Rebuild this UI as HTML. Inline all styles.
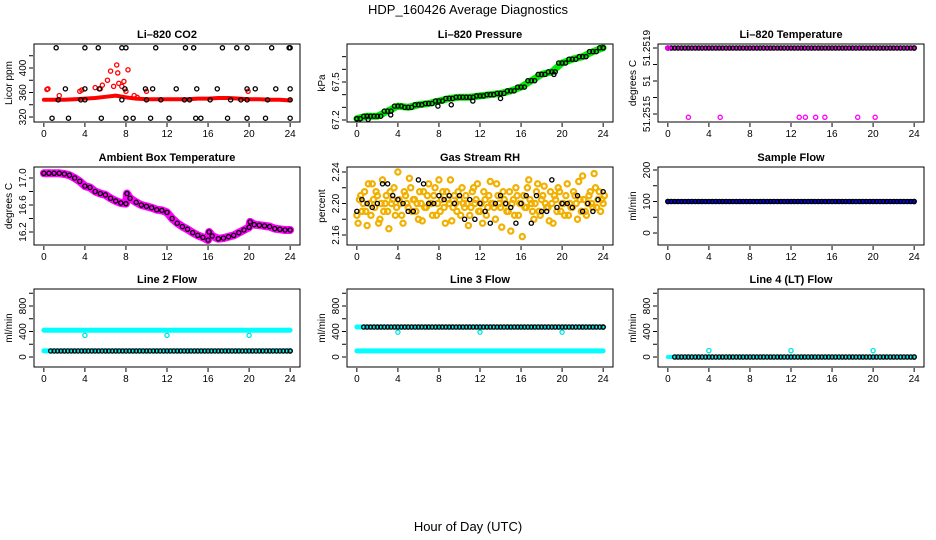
<!DOCTYPE html>
<html><head><meta charset="utf-8">
<style>
html,body{margin:0;padding:0;background:#fff;}
svg{display:block;font-family:"Liberation Sans",Arial,sans-serif;}
</style></head>
<body>
<svg id="chart" width="936" height="540" viewBox="0 0 936 540" xmlns="http://www.w3.org/2000/svg">
<rect x="0" y="0" width="936" height="540" fill="#fff"/>
<text x="468" y="14" font-size="13" text-anchor="middle">HDP_160426  Average Diagnostics</text>
<text x="468" y="531" font-size="13" text-anchor="middle">Hour of Day (UTC)</text>
</svg>
<script>
// ---------- data ----------
const xTicks = [0,4,8,12,16,20,24];
const hours = [0,1,2,3,4,5,6,7,8,9,10,11,12,13,14,15,16,17,18,19,20,21,22,23,24];

const co2Red = [348,348,348,349,350,351,353,355,352,350,349,349,349,349,349,350,350,351,351,350,349,349,348,348,347];
const co2RedOutX = [0.3,0.4,1.5,3.5,3.7,5,5.7,6.2,6.5,7.1,7.2,7.3,7.6,8.2,8,8.8,9.1,10,19.9,5.5,6.8,7.8];
const co2RedOutY = [365,366,355,362,364,368,372,380,395,405,392,375,370,397,362,355,352,362,362,366,370,378];
const co2BlackTopX = [1.2,4,5.3,7.6,8,10.9,13.8,14.6,17.4,18.8,19.8,22.2,23.9,24];
const co2BlackTopY = [433,433,433,433,433,433,433,433,433,433,433,433,433,433];
const co2BlackMidX = [2.1,4,5.4,7.9,9.9,10.6,12.9,14.9,16.9,19.8,20.6,22.6,24];
const co2BlackMidY = [366,366,366,366,366,366,366,366,366,366,366,366,366];
const co2BlackLowX = [1.4,3.6,4,7.6,10,11.4,13.7,14.2,16.2,18.2,19.2,19.8,21.8,24];
const co2BlackLowY = [348,348,348,348,348,348,348,348,348,348,348,348,348,348];
const co2BlackBotX = [0.8,2.4,5.6,8,8.7,10.4,12.2,14.8,15.3,17.9,19.8,21.6,24];
const co2BlackBotY = [318,318,318,318,318,318,318,318,318,318,318,318,318];

const pressure = [67.21,67.23,67.23,67.27,67.31,67.30,67.32,67.33,67.35,67.37,67.38,67.38,67.39,67.40,67.41,67.43,67.46,67.51,67.56,67.58,67.65,67.68,67.70,67.74,67.77];
const pressureOutX = [1.1,3.3,7.9,9.2,11.3,14,19.2];
const pressureOutY = [67.205,67.24,67.31,67.32,67.35,67.37,67.56];

const tempBlack = [51.2519,51.2519,51.2519,51.2519,51.2519,51.2519,51.2519,51.2519,51.2519,51.2519,51.2519,51.2519,51.2519,51.2519,51.2519,51.2519,51.2519,51.2519,51.2519,51.2519,51.2519,51.2519,51.2519,51.2519,51.2519];
const tempMagOutX = [0,2,5.1,12.8,13.4,14.4,15.3,18.5,20.2];
const tempMagOutY = [51.2519,51.25148,51.25148,51.25148,51.25148,51.25148,51.25148,51.25148,51.25148];

const ambientHours = [0,0.5,1,1.5,2,2.5,3,3.5,4,4.5,5,5.5,6,6.5,7,7.5,8,8.1,8.4,9,9.5,10,10.5,11,11.5,12,12.5,13,13.5,14,14.5,15,15.5,16,16.1,16.4,17,17.5,18,18.5,19,19.5,20,20.1,20.5,21,21.5,22,22.5,23,23.5,24];
const ambientValues = [17.07,17.07,17.07,17.07,17.06,17.04,17.0,16.95,16.88,16.86,16.8,16.77,16.75,16.7,16.66,16.63,16.62,16.77,16.7,16.64,16.6,16.58,16.56,16.53,16.52,16.49,16.4,16.33,16.28,16.24,16.19,16.15,16.12,16.08,16.2,16.14,16.1,16.11,16.13,16.15,16.19,16.23,16.27,16.35,16.31,16.3,16.29,16.28,16.25,16.24,16.23,16.23];

const rhYellowA = [2.185,2.205,2.19,2.215,2.172,2.2,2.225,2.195,2.21,2.18,2.23,2.2,2.19,2.215,2.205,2.185,2.24,2.2,2.175,2.21,2.195,2.22,2.205,2.19,2.18,2.2,2.215,2.195,2.225,2.2,2.21,2.185,2.23,2.205,2.195,2.215,2.2,2.178,2.21,2.19,2.205,2.22,2.195,2.2,2.185,2.215,2.2,2.225,2.19,2.175,2.205,2.195,2.228,2.2,2.18,2.21,2.195,2.215,2.2,2.19,2.165,2.205,2.22,2.185,2.2,2.21,2.195,2.23,2.2,2.18,2.215,2.19,2.205,2.222,2.195,2.178,2.2,2.21,2.19,2.215,2.2,2.185,2.225,2.2,2.195,2.21,2.18,2.205,2.235,2.19,2.2,2.215,2.195,2.22,2.205,2.19,2.2];
const rhYellowB = [2.175,2.21,2.2,2.19,2.225,2.185,2.205,2.215,2.175,2.2,2.19,2.21,2.168,2.2,2.22,2.195,2.205,2.185,2.215,2.2,2.232,2.19,2.205,2.2,2.215,2.178,2.195,2.21,2.2,2.185,2.22,2.2,2.19,2.215,2.175,2.205,2.23,2.195,2.2,2.215,2.185,2.2,2.21,2.172,2.195,2.22,2.205,2.19,2.2,2.215,2.185,2.21,2.2,2.195,2.225,2.2,2.17,2.205,2.19,2.215,2.2,2.185,2.21,2.2,2.158,2.195,2.22,2.205,2.19,2.2,2.225,2.185,2.21,2.2,2.195,2.215,2.175,2.205,2.22,2.19,2.2,2.21,2.185,2.195,2.215,2.2,2.228,2.19,2.205,2.185,2.21,2.2,2.238,2.195,2.215,2.205,2.21];
const rhBlack = [2.19,2.205,2.2,2.195,2.2,2.225,2.225,2.21,2.205,2.2,2.19,2.19,2.23,2.225,2.2,2.2,2.21,2.205,2.21,2.2,2.21,2.18,2.205,2.18,2.2,2.19,2.175,2.2,2.21,2.2,2.195,2.175,2.2,2.21,2.175,2.21,2.19,2.19,2.23,2.195,2.2,2.2,2.195,2.21,2.19,2.2,2.19,2.205,2.215];

const sampleFlow = [100,100,100,100,100,100,100,100,100,100,100,100,100,100,100,100,100,100,100,100,100,100,100,100,100];
const line2High = [420,420,420,420,420,420,420,420,420,420,420,420,420,420,420,420,420,420,420,420,420,420,420,420,420];
const line2Low = [95,95,95,95,95,95,95,95,95,95,95,95,95,95,95,95,95,95,95,95,95,95,95,95,95];
const line2OutX = [4,12,20];
const line2OutY = [340,340,340];
const line3High = [470,470,470,470,470,470,470,470,470,470,470,470,470,470,470,470,470,470,470,470,470,470,470,470,470];
const line3Low = [95,95,95,95,95,95,95,95,95,95,95,95,95,95,95,95,95,95,95,95,95,95,95,95,95];
const line3OutX = [4,12,20];
const line3OutY = [390,390,390];
const line4 = [0,0,0,0,0,0,0,0,0,0,0,0,0,0,0,0,0,0,0,0,0,0,0,0,0];
const line4OutX = [4,12,20];
const line4OutY = [100,100,100];

// ---------- layout ----------
const NS = "http://www.w3.org/2000/svg";
const svg = document.getElementById("chart");
const colL = [34,347,658], rowT = [44,167,289], W = 266, H = 78;

function el(tag, attrs, parent){
  const e = document.createElementNS(NS, tag);
  for (const k in attrs) e.setAttribute(k, attrs[k]);
  (parent||svg).appendChild(e);
  return e;
}

function makePanel(cfg){
  const L = colL[cfg.col], T = rowT[cfg.row];
  const k = (cfg.p1 - cfg.p0)/(cfg.v1 - cfg.v0);
  const p = {
    L, T,
    x: v => L + (v + 0.96)/25.92*W,
    y: v => T + cfg.p0 + (v - cfg.v0)*k
  };
  const g = el("g", {});
  
  
  p.g = g;
  const t = el("text", {x: L + W/2, y: T - 6, "font-size": 11, "font-weight": "bold", "text-anchor": "middle"}, g);
  t.textContent = cfg.title;
  
  
  xTicks.forEach(v => {
    const tk = el("line", {x1: p.x(v), x2: p.x(v), y1: T+H+1, y2: T+H+5, stroke: "#000", "stroke-width": 1}, g);
    
    
    const tl = el("text", {x: p.x(v), y: T+H+15, "font-size": 10, "text-anchor": "middle"}, g);
    tl.textContent = String(v);
    
    
  });
  cfg.ticks.forEach((v, i) => {
    const yy = p.y(v);
    const tk = el("line", {x1: L-5, x2: L-1, y1: yy, y2: yy, stroke: "#000", "stroke-width": 1}, g);
    
    
    if (cfg.labels[i]) {
      const tl = el("text", {x: L-8, y: yy, "font-size": 10, "text-anchor": "middle", transform: `rotate(-90 ${L-8} ${yy})`}, g);
      tl.textContent = cfg.labels[i];
      
      
    }
  });
  const yl = el("text", {x: L-22, y: T+H/2, "font-size": 10, "text-anchor": "middle", transform: `rotate(-90 ${L-22} ${T+H/2})`}, g);
  yl.textContent = cfg.ylab;
  
  
  p.frame = () => {
    const f = el("rect", {x: L, y: T, width: W, height: H, fill: "none", stroke: "#000", "stroke-width": 1}, g);
    
    
  };
  return p;
}

function band(p, xs, ys, color, width, name){
  const pts = xs.map((x,i) => p.x(x).toFixed(1) + "," + p.y(ys[i]).toFixed(1)).join(" ");
  const b = el("polyline", {points: pts, fill: "none", stroke: color, "stroke-width": width, "stroke-linejoin": "round", "stroke-linecap": "round"}, p.g);
  
  
}
function pts(p, xs, ys, color, name, r, sw){
  xs.forEach((x,i) => {
    const c = el("circle", {cx: p.x(x), cy: p.y(ys[i]), r: r||2.1, fill: "none", stroke: color, "stroke-width": sw||1.3}, p.g);
    
    
  });
}
function dense(p, xs, ys, color, name){
  const offs = [-0.33, 0, 0.33];
  xs.forEach((x,i) => {
    offs.forEach(o => {
      const xx = Math.min(24, Math.max(0, x + o));
      const c = el("circle", {cx: p.x(xx), cy: p.y(ys[i]), r: 2.1, fill: "none", stroke: color, "stroke-width": 1.3}, p.g);
      
      
    });
  });
}

const idx97 = rhYellowA.map((_, i) => i*0.25);
const idx49 = rhBlack.map((_, i) => i*0.5);

let p = makePanel({id:"co2", col:0, row:0, v0:320, p0:73, v1:400, p1:24, ticks:[320,340,360,380,400,420], labels:["320","","360","","400",""], title:"Li\u2013820 CO2", ylab:"Licor ppm"});
band(p, hours, co2Red, "#ff0000", 4, "co2-red-band");
pts(p, co2RedOutX, co2RedOutY, "#ff0000", "co2-red-point");
pts(p, co2BlackTopX, co2BlackTopY, "#000", "co2-black-point");
pts(p, co2BlackMidX, co2BlackMidY, "#000", "co2-black-point");
pts(p, co2BlackLowX, co2BlackLowY, "#000", "co2-black-point");
pts(p, co2BlackBotX, co2BlackBotY, "#000", "co2-black-point");
p.frame();

p = makePanel({id:"pressure", col:1, row:0, v0:67.2, p0:76, v1:67.5, p1:38, ticks:[67.2,67.3,67.4,67.5,67.6,67.7], labels:["67.2","","","67.5","",""], title:"Li\u2013820 Pressure", ylab:"kPa"});
band(p, hours, pressure, "#00ee00", 7, "pressure-green-band");
dense(p, hours, pressure, "#000", "pressure-black-point");
pts(p, pressureOutX, pressureOutY, "#000", "pressure-black-point");
p.frame();

p = makePanel({id:"licor-temp", col:2, row:0, v0:51.2515, p0:70, v1:51.2519, p1:4, ticks:[51.2515,51.2516,51.2517,51.2518,51.2519], labels:["51.2515","","51","","51.2519"], title:"Li\u2013820 Temperature", ylab:"degrees C"});
band(p, hours, tempBlack, "#ff00ff", 4, "licor-temp-magenta-band");
dense(p, hours, tempBlack, "#000", "licor-temp-black-point");
pts(p, tempMagOutX, tempMagOutY, "#ff00ff", "licor-temp-magenta-point");
p.frame();

p = makePanel({id:"ambient", col:0, row:1, v0:17.0, p0:11, v1:16.2, p1:65, ticks:[16.2,16.4,16.6,16.8,17.0], labels:["16.2","","16.6","","17.0"], title:"Ambient Box Temperature", ylab:"degrees C"});
band(p, ambientHours, ambientValues, "#ff00ff", 8, "ambient-magenta-band");
pts(p, ambientHours, ambientValues, "#000", "ambient-black-point");
p.frame();

p = makePanel({id:"rh", col:1, row:1, v0:2.24, p0:5, v1:2.16, p1:68, ticks:[2.16,2.18,2.2,2.22,2.24], labels:["2.16","","2.20","","2.24"], title:"Gas Stream RH", ylab:"percent"});
pts(p, idx97, rhYellowA, "#f2b000", "rh-yellow-point", 2.6, 2.2);
pts(p, idx97.map(v => v + 0.12), rhYellowB, "#f2b000", "rh-yellow-point", 2.6, 2.2);
pts(p, idx49, rhBlack, "#000", "rh-black-point");
p.frame();

p = makePanel({id:"sample-flow", col:2, row:1, v0:0, p0:66, v1:200, p1:3, ticks:[0,50,100,150,200], labels:["0","","100","","200"], title:"Sample Flow", ylab:"ml/min"});
band(p, hours, sampleFlow, "#0000ff", 5, "sample-flow-blue-band");
dense(p, hours, sampleFlow, "#000", "sample-flow-black-point");
p.frame();

p = makePanel({id:"line2", col:0, row:2, v0:0, p0:68, v1:800, p1:17, ticks:[0,200,400,600,800,1000], labels:["0","","400","","800",""], title:"Line 2 Flow", ylab:"ml/min"});
band(p, hours, line2High, "#00ffff", 5, "line2-cyan-band-high");
band(p, hours, line2Low, "#00ffff", 5, "line2-cyan-band-low");
pts(p, line2OutX, line2OutY, "#00e5e5", "line2-cyan-point");
dense(p, hours.slice(1), line2Low.slice(1), "#000", "line2-black-point");
p.frame();

p = makePanel({id:"line3", col:1, row:2, v0:0, p0:68, v1:800, p1:17, ticks:[0,200,400,600,800,1000], labels:["0","","400","","800",""], title:"Line 3 Flow", ylab:"ml/min"});
band(p, hours, line3High, "#00ffff", 5, "line3-cyan-band-high");
band(p, hours, line3Low, "#00ffff", 5, "line3-cyan-band-low");
pts(p, line3OutX, line3OutY, "#00e5e5", "line3-cyan-point");
dense(p, hours.slice(1), line3High.slice(1), "#000", "line3-black-point");
p.frame();

p = makePanel({id:"line4", col:2, row:2, v0:0, p0:68, v1:800, p1:17, ticks:[0,200,400,600,800,1000], labels:["0","","400","","800",""], title:"Line 4 (LT) Flow", ylab:"ml/min"});
band(p, hours, line4, "#00ffff", 4, "line4-cyan-band");
pts(p, line4OutX, line4OutY, "#00e5e5", "line4-cyan-point");
dense(p, hours.slice(1), line4.slice(1), "#000", "line4-black-point");
p.frame();
</script>
</body></html>
